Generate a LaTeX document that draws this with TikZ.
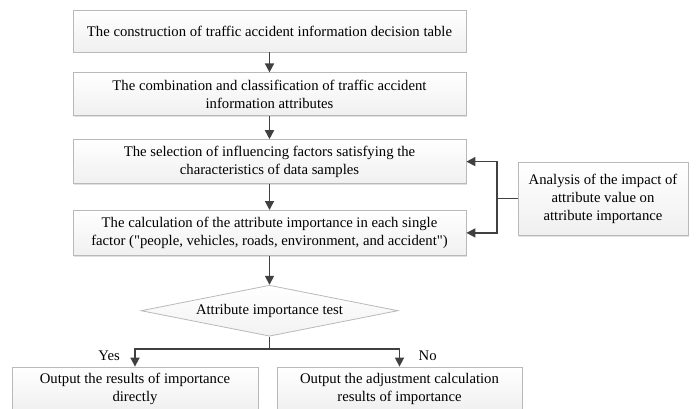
\documentclass[tikz,border=0pt]{standalone}
\usepackage{fontspec}
\setmainfont{Liberation Serif}
\usetikzlibrary{positioning,arrows.meta,shapes.geometric,shadows}

\begin{document}
\begin{tikzpicture}[x=1pt,y=1pt,
  font=\fontsize{14.7}{18}\selectfont, text=black,
  stepbox/.style={draw=gray!55, line width=0.8pt, top color=white, bottom color=gray!12, align=center,
    inner sep=2pt, drop shadow={shadow xshift=1.2pt, shadow yshift=-1.5pt, fill=gray!40, opacity=.6}},
  testbox/.style={diamond, aspect=5.04, draw=gray!55, line width=0.8pt, top color=white, bottom color=gray!10, inner sep=0pt,
    minimum width=257pt, minimum height=51pt},
  flow/.style={draw=black!75, line width=1.6pt, -{Triangle[width=9pt,length=9pt]}},
  node distance=20pt]
\useasboundingbox (0,0) rectangle (696,-409);

\node[stepbox, minimum width=393pt, minimum height=42pt] (tab) at (269.5,-31)
  {The construction of traffic accident information decision table};
\node[stepbox, minimum width=393pt, minimum height=43pt, below=20pt of tab] (comb)
  {The combination and classification of traffic accident\\ information attributes};
\node[stepbox, minimum width=393pt, minimum height=44pt, below=23pt of comb] (sel)
  {The selection of influencing factors satisfying the\\ characteristics of data samples};
\node[stepbox, minimum width=393pt, minimum height=45pt, below=26pt of sel] (calc)
  {The calculation of the attribute importance in each single\\ factor (\textquotedbl people, vehicles, roads, environment, and accident\textquotedbl)};
\node[testbox, below=29pt of calc] (test) {Attribute importance test};
\node[stepbox, minimum width=246pt, minimum height=44pt] (yes) at (135,-389)
  {Output the results of importance\\ directly};
\node[stepbox, minimum width=245pt, minimum height=44pt] (no) at (399.5,-389)
  {Output the adjustment calculation\\ results of importance};
\node[stepbox, minimum width=170pt, minimum height=73pt] (ana) at (603,-198.5)
  {Analysis of the impact of\\ attribute value on\\ attribute importance};

\coordinate (split) at (269.5,-349);
\coordinate (back) at (497,-198.5);

\draw[flow] (tab) -- (comb);
\draw[flow] (comb) -- (sel);
\draw[flow] (sel) -- (calc);
\draw[flow] (calc) -- (test);
\draw[line width=1.6pt, draw=black!75] (test) -- (split);
\draw[flow] (split) -| node[pos=0.5, anchor=north east, xshift=-11pt, yshift=2pt] {Yes} (yes);
\draw[flow] (split) -| node[pos=0.5, anchor=north west, xshift=15pt, yshift=2pt] {No} (no);
\draw[line width=1.6pt, draw=black!75] (ana) -- (back);
\draw[flow] (back) |- (sel);
\draw[flow] (back) |- (calc);
\end{tikzpicture}
\end{document}
